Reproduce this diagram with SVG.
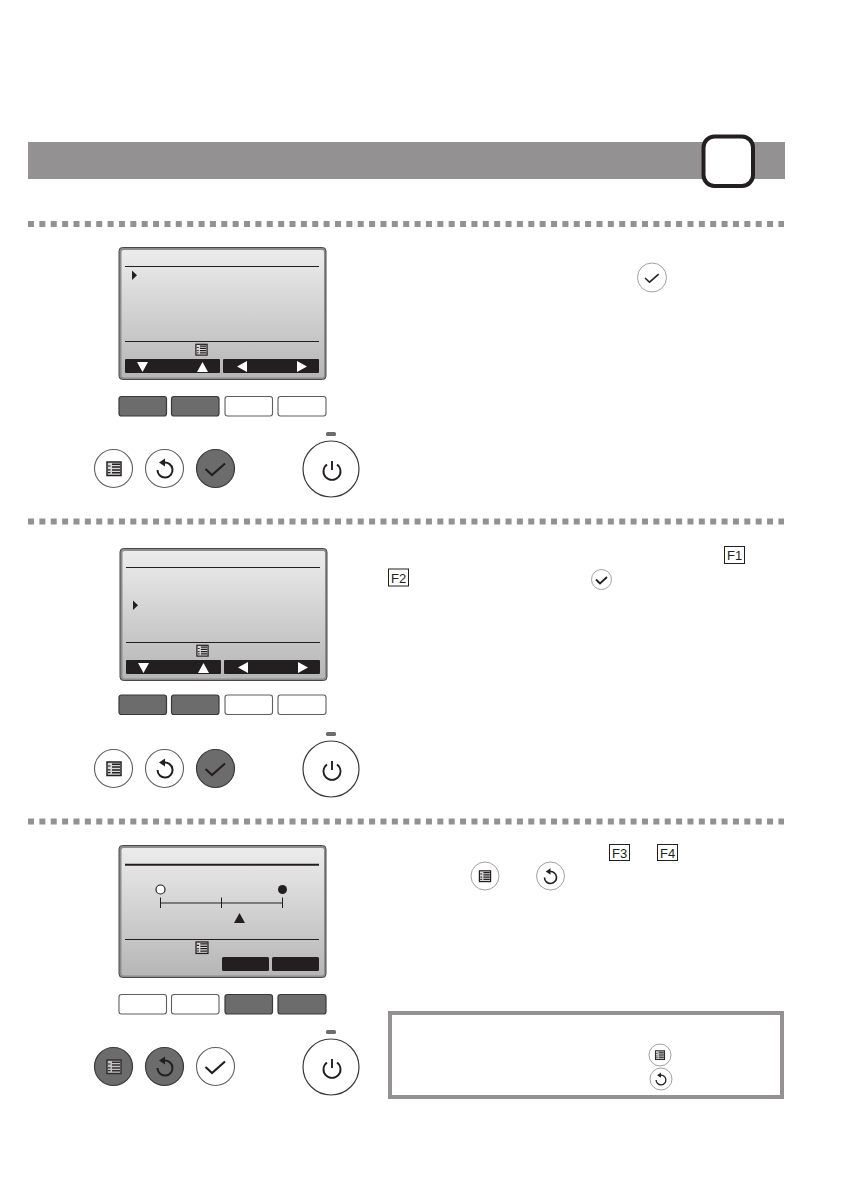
<svg xmlns="http://www.w3.org/2000/svg" xmlns:xlink="http://www.w3.org/1999/xlink" width="843" height="1192" viewBox="0 0 843 1192">
<style>
.rule{stroke:#939192;stroke-width:6;stroke-dasharray:6 5.37;fill:none}
.ln{stroke:#231f20;fill:none}
.kd{fill:#231f20}
.on{fill:#6d6c6d;stroke:#3a3839;stroke-width:1.2}
.off{fill:#fff;stroke:#5f5d5e;stroke-width:1.1}
.key{fill:#231f20}
.w{fill:#fff}
.ft{font-family:"Liberation Sans",Arial,sans-serif;font-size:13px;fill:#231f20}
.fb{fill:#fff;stroke:#231f20;stroke-width:1}
.thin{fill:#fff;stroke:#8a8889;stroke-width:.8}
</style>
<defs>
<linearGradient id="lcd" x1="0" y1="0" x2="0" y2="1"><stop offset="0" stop-color="#ececec"/><stop offset="1" stop-color="#b6b6b6"/></linearGradient>
<g id="screen">
<rect x="119" y="247.500" width="207" height="132" rx="3.500" fill="#8e8c8d" stroke="#4a4849" stroke-width="1"/>
<rect x="121.500" y="250" width="202.500" height="127.500" rx="2" fill="url(#lcd)"/>
<path class="ln" stroke-width="1.200" d="M125 266.500H319M125 341.500H319"/>
</g>
<g id="arrowkeys">
<rect class="key" x="125" y="359" width="95" height="14" rx="1"/><rect class="key" x="223" y="359" width="96" height="14" rx="1"/>
<path class="w" d="M137 362h11l-5.500 10zM197 372h11l-5.500-10zM247 361v11l-10-5.500zM297 361v11l10-5.500z"/>
</g>
<g id="menuglyph">
<rect x="-7" y="-6.500" width="14" height="13.500" fill="#d9d9d9" stroke="#231f20" stroke-width="1.500"/>
<path class="ln" stroke-width="1.500" d="M-2-4.200H6M-2-1.400H6M-2 1.400H6M-2 4.200H6"/>
<path class="ln" stroke-width="1.200" d="M-6-2.500H-3.500M-6 1.400H-3.500M-6 4.200H-3.500"/>
</g>
<g id="backglyph">
<path class="ln" stroke-width="2" d="M-1.500-7.300A7.500 7.500 0 1 1-7.500 0"/>
<path class="kd" d="M-6-7.500L0-11.500V-3.500z"/>
</g>
<path id="checkglyph" class="ln" stroke-width="2.200" d="M-10 0L-3.500 6 9.500-5.500"/>
<g id="power">
<rect x="326" y="432" width="10" height="4" rx="1.500" fill="#6d6c6d"/>
<circle cx="331" cy="469" r="28" fill="#fff" stroke="#3a3839" stroke-width="1.200"/>
<path class="ln" stroke-width="1.900" d="M332 461v9M327 464.500a8.500 8.500 0 1 0 10 0"/>
</g>
</defs>

<g id="header">
<rect x="28" y="142" width="757" height="37" fill="#939192"/>
<rect x="703.500" y="136.500" width="49.500" height="49.500" rx="11" fill="#fff" stroke="#231f20" stroke-width="4"/>
</g>

<g id="connectors">
<path class="rule" d="M28 224H784"/>
<path class="rule" d="M28 521.500H784"/>
<path class="rule" d="M28 821.500H784"/>
</g>

<g id="step1">
<g id="step1-screen">
<use xlink:href="#screen"/>
<path class="kd" d="M132 270.500v9.500l5-4.700z"/>
<use xlink:href="#menuglyph" transform="translate(201.500 349.500) scale(.8)"/>
<use xlink:href="#arrowkeys"/>
</g>
<g id="step1-keys">
<rect class="on" x="119" y="396.500" width="47.500" height="19.500" rx="2.500"/>
<rect class="on" x="171.500" y="396.500" width="47.500" height="19.500" rx="2.500"/>
<rect class="off" x="225" y="396.500" width="47.500" height="19.500" rx="2.500"/>
<rect class="off" x="278" y="396.500" width="48" height="19.500" rx="2.500"/>
</g>
<g id="step1-buttons">
<circle class="off" cx="113.500" cy="468.500" r="19"/><use xlink:href="#menuglyph" x="114" y="468.500"/>
<circle class="off" cx="164.500" cy="468.500" r="19"/><use xlink:href="#backglyph" x="165" y="470"/>
<circle class="on" cx="215.500" cy="468.500" r="19"/><use xlink:href="#checkglyph" x="215.500" y="469"/>
<use xlink:href="#power"/>
</g>
<g id="step1-inline">
<circle class="thin" cx="652" cy="277.500" r="14.500"/><use xlink:href="#checkglyph" transform="translate(652 278) scale(.7)"/>
</g>
</g>

<g id="step2">
<g id="step2-screen" transform="translate(1 301)">
<use xlink:href="#screen"/>
<path class="kd" d="M132 299.500v9.500l5-4.700z"/>
<use xlink:href="#menuglyph" transform="translate(201.500 349.500) scale(.8)"/>
<use xlink:href="#arrowkeys"/>
</g>
<g id="step2-keys" transform="translate(0 298.500)">
<rect class="on" x="119" y="396.500" width="47.500" height="19.500" rx="2.500"/>
<rect class="on" x="171.500" y="396.500" width="47.500" height="19.500" rx="2.500"/>
<rect class="off" x="225" y="396.500" width="47.500" height="19.500" rx="2.500"/>
<rect class="off" x="278" y="396.500" width="48" height="19.500" rx="2.500"/>
</g>
<g id="step2-buttons" transform="translate(0 300)">
<circle class="off" cx="113.500" cy="468.500" r="19"/><use xlink:href="#menuglyph" x="114" y="468.500"/>
<circle class="off" cx="164.500" cy="468.500" r="19"/><use xlink:href="#backglyph" x="165" y="470"/>
<circle class="on" cx="215.500" cy="468.500" r="19"/><use xlink:href="#checkglyph" x="215.500" y="469"/>
<use xlink:href="#power"/>
</g>
<g id="step2-inline">
<rect class="fb" x="724.500" y="546.500" width="20" height="17"/><text class="ft" x="727" y="560">F1</text>
<rect class="fb" x="388.500" y="569" width="20" height="17"/><text class="ft" x="391" y="582.500">F2</text>
<circle class="thin" cx="601.500" cy="579.500" r="10"/><path class="ln" stroke-width="1.800" d="M596 579.500L600 583.500 607 577"/>
</g>
</g>

<g id="step3">
<g id="step3-screen" transform="translate(0 598)">
<rect x="119" y="247.500" width="207" height="132" rx="3.500" fill="#8e8c8d" stroke="#4a4849" stroke-width="1"/>
<rect x="121.500" y="250" width="202.500" height="127.500" rx="2" fill="url(#lcd)"/>
<path class="ln" stroke-width="2" d="M125 266.700H319"/>
<path class="ln" stroke-width="1.200" d="M125 341.500H319"/>
<circle cx="160.500" cy="291.500" r="4.500" fill="#fff" stroke="#231f20" stroke-width="1.200"/>
<circle cx="282.500" cy="291.500" r="4.500" class="kd"/>
<path class="ln" stroke-width="1" d="M160.500 299.500V310M221.500 299.500V310M282.500 299.500V310M160.500 305H282.500"/>
<path class="kd" d="M234 325h11l-5.500-10z"/>
<use xlink:href="#menuglyph" transform="translate(202 349.500) scale(.85)"/>
<rect class="key" x="222" y="359" width="47" height="14" rx="1.500"/>
<rect class="key" x="272" y="359" width="47" height="14" rx="1.500"/>
</g>
<g id="step3-keys" transform="translate(0 598)">
<rect class="off" x="119" y="396.500" width="47.500" height="19.500" rx="2.500"/>
<rect class="off" x="171.500" y="396.500" width="47.500" height="19.500" rx="2.500"/>
<rect class="on" x="225" y="396.500" width="47.500" height="19.500" rx="2.500"/>
<rect class="on" x="278" y="396.500" width="48" height="19.500" rx="2.500"/>
</g>
<g id="step3-buttons" transform="translate(0 598)">
<circle class="on" cx="113.500" cy="468.500" r="19"/><use xlink:href="#menuglyph" x="114" y="468.500" opacity=".8"/>
<circle class="on" cx="164.500" cy="468.500" r="19"/><use xlink:href="#backglyph" x="165" y="470"/>
<circle class="off" cx="215.500" cy="468.500" r="19"/><use xlink:href="#checkglyph" x="215.500" y="469"/>
<use xlink:href="#power"/>
</g>
<g id="step3-inline">
<rect class="fb" x="609.500" y="844.500" width="20" height="16"/><text class="ft" x="612" y="857.500">F3</text>
<rect class="fb" x="657.500" y="844.500" width="20" height="16"/><text class="ft" x="660" y="857.500">F4</text>
<circle class="thin" cx="485" cy="876" r="14"/><use xlink:href="#menuglyph" transform="translate(485 876) scale(.8)"/>
<circle class="thin" cx="550.500" cy="876" r="14"/><use xlink:href="#backglyph" transform="translate(550.500 877.500) scale(.8)"/>
</g>
</g>

<g id="note">
<rect x="390" y="1013" width="392" height="84" fill="#fff" stroke="#939192" stroke-width="4"/>
<circle class="thin" cx="660" cy="1055" r="11"/><use xlink:href="#menuglyph" transform="translate(660 1055) scale(.65)"/>
<circle class="thin" cx="661" cy="1079" r="11"/><use xlink:href="#backglyph" transform="translate(661 1080) scale(.65)"/>
</g>
</svg>
